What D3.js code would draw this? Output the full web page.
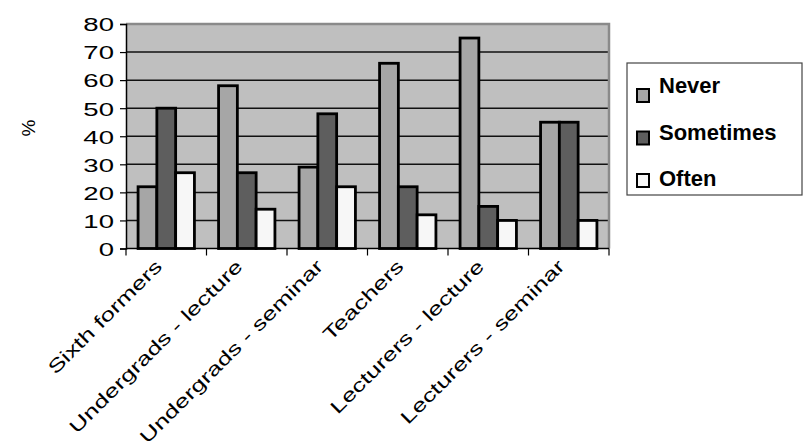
<!DOCTYPE html>
<html>
<head>
<meta charset="utf-8">
<script src="https://cdn.jsdelivr.net/npm/d3@7"></script>
<style>
  html, body { margin: 0; padding: 0; background: #fff; }
  svg { display: block; font-family: "Liberation Sans", Arial, Helvetica, sans-serif; }
</style>
</head>
<body>
<svg id="chart" width="804" height="444"></svg>
<script>
// Groups surveyed along the x axis
const categories = ["Sixth formers", "Undergrads - lecture", "Undergrads - seminar",
                    "Teachers", "Lecturers - lecture", "Lecturers - seminar"];
// Response series (percent of each group)
const seriesNames = ["Never", "Sometimes", "Often"];
const never     = [22, 58, 29, 66, 75, 45];
const sometimes = [50, 27, 48, 22, 15, 45];
const often     = [27, 14, 22, 12, 10, 10];
const yTicks = [0, 10, 20, 30, 40, 50, 60, 70, 80];
const yLabel = "%";

const seriesValues = [never, sometimes, often];
const fills = { Never: "#a6a6a6", Sometimes: "#5e5e5e", Often: "#f7f7f7" };

const svg = d3.select("#chart");
const plot = { left: 126, right: 609, top: 24, bottom: 248.5 };

const x0 = d3.scaleBand().domain(categories)
  .range([plot.left, plot.right]).paddingInner(0.3).paddingOuter(0.15);
const x1 = d3.scaleBand().domain(seriesNames).range([0, x0.bandwidth()]);
const y = d3.scaleLinear().domain([0, 80]).range([plot.bottom, plot.top]);

// Plot area
svg.append("rect")
  .attr("x", plot.left).attr("y", plot.top)
  .attr("width", plot.right - plot.left).attr("height", plot.bottom - plot.top)
  .attr("fill", "#bfbfbf");

// Horizontal gridlines
svg.append("g").selectAll("line")
  .data(yTicks.filter(t => t > 0 && t < 80))
  .join("line")
  .attr("x1", plot.left).attr("x2", plot.right)
  .attr("y1", d => y(d)).attr("y2", d => y(d))
  .attr("stroke", "#111").attr("stroke-width", 1.5);

// Top and right frame edges
svg.append("path")
  .attr("d", `M${plot.left},${y(80)}H${plot.right}V${plot.bottom}`)
  .attr("fill", "none").attr("stroke", "#8a8a8a").attr("stroke-width", 2.5);

// Bars
const rows = categories.map((c, i) => ({
  cat: c,
  vals: seriesNames.map((s, j) => ({ s, v: seriesValues[j][i] }))
}));
svg.append("g").selectAll("g")
  .data(rows).join("g")
  .attr("transform", d => `translate(${x0(d.cat)},0)`)
  .selectAll("rect")
  .data(d => d.vals).join("rect")
  .attr("x", d => x1(d.s))
  .attr("y", d => y(d.v))
  .attr("width", x1.bandwidth())
  .attr("height", d => y(0) - y(d.v))
  .attr("fill", d => fills[d.s])
  .attr("stroke", "#000").attr("stroke-width", 2.8);

// Y axis
const yAxis = svg.append("g").attr("transform", `translate(${plot.left},0)`)
  .call(d3.axisLeft(y).tickValues(yTicks).tickSize(6).tickPadding(7));
yAxis.select(".domain").attr("stroke", "#000").attr("stroke-width", 1.5);
yAxis.selectAll(".tick line").attr("stroke", "#000").attr("stroke-width", 1.2);
yAxis.selectAll(".tick text")
  .attr("font-size", 19).attr("fill", "#000")
  .attr("x", 0)
  .attr("dy", "0.36em")
  // widened digits, right edge kept just left of the tick
  .attr("transform", "translate(-12,0) scale(1.45,1)");

// X axis with ticks at the category boundaries
const xAxisG = svg.append("g").attr("transform", `translate(0,${plot.bottom})`);
xAxisG.append("line")
  .attr("x1", plot.left).attr("x2", plot.right)
  .attr("stroke", "#000").attr("stroke-width", 1.5);
const step = x0.step();
xAxisG.selectAll("line.tk")
  .data(d3.range(categories.length + 1))
  .join("line").attr("class", "tk")
  .attr("x1", i => plot.left + i * step).attr("x2", i => plot.left + i * step)
  .attr("y1", 0).attr("y2", 7)
  .attr("stroke", "#000").attr("stroke-width", 1.2);

xAxisG.selectAll("text.cat")
  .data(categories).join("text").attr("class", "cat")
  .attr("text-anchor", "end")
  .attr("font-size", 18.5)
  .attr("fill", "#000")
  .attr("transform", d => `translate(${x0(d) + x0.bandwidth() / 2 - 3},${19}) rotate(-45) scale(1.4,1)`)
  .text(d => d);

// Axis title
svg.append("text")
  .attr("transform", "translate(35,128) rotate(-90)")
  .attr("text-anchor", "middle")
  .attr("font-size", 19)
  .attr("fill", "#000")
  .text(yLabel);

// Legend
const lg = svg.append("g");
lg.append("rect")
  .attr("x", 627).attr("y", 63).attr("width", 175).attr("height", 132)
  .attr("fill", "#fff").attr("stroke", "#444").attr("stroke-width", 1.2);
const items = lg.selectAll("g.item").data(seriesNames).join("g").attr("class", "item");
items.append("rect")
  .attr("x", 637).attr("y", (d, i) => 89 + i * 42.5)
  .attr("width", 12).attr("height", 13)
  .attr("fill", d => fills[d]).attr("stroke", "#000").attr("stroke-width", 2);
items.append("text")
  .attr("x", 659).attr("y", (d, i) => 93 + i * 46.5)
  .attr("font-size", 22).attr("font-weight", "bold").attr("fill", "#000")
  .text(d => d);
</script>
</body>
</html>
